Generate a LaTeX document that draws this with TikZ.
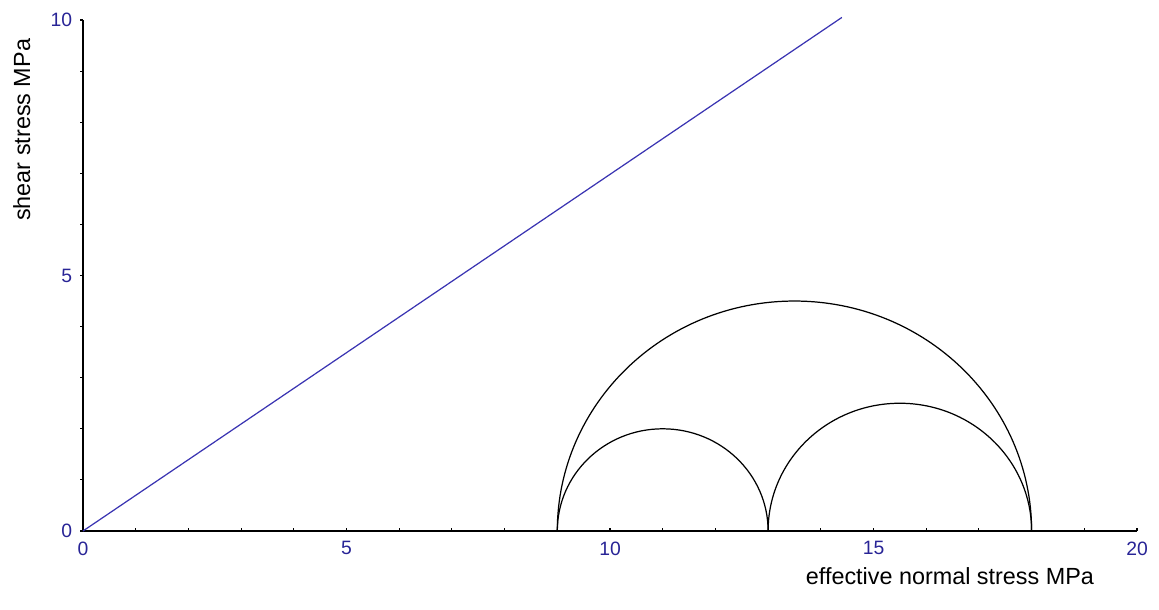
\documentclass[tikz,border=0pt]{standalone}
\usepackage{fontspec}
\setmainfont{Liberation Sans}
\usetikzlibrary{arrows.meta,positioning,calc}
\definecolor{plotblue}{RGB}{58,52,178}
\definecolor{ticklab}{RGB}{40,36,150}

\begin{document}
\begin{tikzpicture}[
  x=1.054cm, y=1.022cm,
  axis/.style={line width=0.8pt, black},
  tick/.style={line width=0.6pt, black},
  ticklabel/.style={font=\fontsize{11}{13}\selectfont, text=ticklab, inner sep=0pt},
  axislabel/.style={font=\fontsize{13.3}{15}\selectfont, inner sep=0pt},
  circ/.style={line width=0.7pt, black},
  failure/.style={line width=0.7pt, plotblue}
]
\useasboundingbox (-1.66cm,-1.56cm) rectangle (21.52cm,10.62cm);

\coordinate (O) at (0,0);
\coordinate (xend) at (20,0);
\coordinate (yend) at (0,10);
\coordinate (fail) at (14.4,10.05);

% axes and ticks
\draw[axis] (O) -- (xend);
\draw[axis] (O) -- (yend);
\foreach \x in {1,...,20} {
  \draw[tick] (\x,0) -- ++(0,0.065);
}
\foreach \y in {0,...,10} {
  \draw[tick] (0,\y) -- ++(-0.065,0);
}
\foreach \x in {0,5,10,15,20} {
  \node[ticklabel, anchor=north] (xl\x) at (\x,-0.2) {\x};
}
\foreach \y in {0,5,10} {
  \node[ticklabel, anchor=east] (yl\y) at (-0.2,\y) {\y};
}

\node[axislabel] (xlab) at (16.45,-0.88) {effective normal stress MPa};
\node[axislabel, rotate=90] (ylab) at (-1.16,7.85) {shear stress MPa};

% failure envelope
\draw[failure] (O) -- (fail);

% Mohr circles
\draw[circ] (18,0) arc[start angle=0, end angle=180, x radius=4.5, y radius=4.5];
\draw[circ] (13,0) arc[start angle=0, end angle=180, x radius=2, y radius=2];
\draw[circ] (18,0) arc[start angle=0, end angle=180, x radius=2.5, y radius=2.5];

\end{tikzpicture}
\end{document}
